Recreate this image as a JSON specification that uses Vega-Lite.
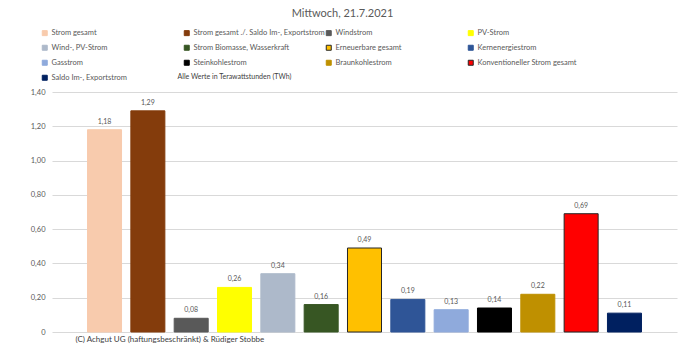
{
  "$schema": "https://vega.github.io/schema/vega-lite/v6.json",
  "width": 625,
  "height": 240,
  "autosize": {"type": "none"},
  "padding": {"left": 52, "top": 92, "right": 1, "bottom": 19},
  "background": "white",
  "title": {
    "text": "Mittwoch, 21.7.2021",
    "anchor": "middle",
    "frame": "group",
    "dx": -22,
    "offset": 10,
    "fontSize": 11,
    "font": "Lato",
    "fontWeight": "normal",
    "color": "#595959"
  },
  "config": {
    "locale": {"number": {"decimal": ",", "thousands": ".", "grouping": [3], "currency": ["", " €"]}},
    "view": {"stroke": null},
    "font": "Lato"
  },
  "data": {
    "values": [
      {"name": "Strom gesamt", "value": 1.18},
      {"name": "Strom gesamt ./. Saldo Im-, Exportstrom", "value": 1.29},
      {"name": "Windstrom", "value": 0.08},
      {"name": "PV-Strom", "value": 0.26},
      {"name": "Wind-, PV-Strom", "value": 0.34},
      {"name": "Strom Biomasse, Wasserkraft", "value": 0.16},
      {"name": "Erneuerbare gesamt", "value": 0.49},
      {"name": "Kernenergiestrom", "value": 0.19},
      {"name": "Gasstrom", "value": 0.13},
      {"name": "Steinkohlestrom", "value": 0.14},
      {"name": "Braunkohlestrom", "value": 0.22},
      {"name": "Konventioneller Strom gesamt", "value": 0.69},
      {"name": "Saldo Im-, Exportstrom", "value": 0.11}
    ]
  },
  "encoding": {
    "x": {
      "field": "name",
      "type": "nominal",
      "sort": null,
      "scale": {"paddingInner": 0.215, "paddingOuter": 0.82},
      "axis": {
        "labels": false,
        "ticks": false,
        "domain": false,
        "title": "(C) Achgut UG (haftungsbeschränkt) & Rüdiger Stobbe",
        "titleAnchor": "start",
        "titleAlign": "left",
        "titleX": 23,
        "titleY": 7,
        "titleBaseline": "middle",
        "titleFontSize": 8,
        "titleFontWeight": "normal",
        "titleColor": "#404040",
        "titleFont": "Lato"
      }
    },
    "y": {
      "field": "value",
      "type": "quantitative",
      "scale": {"domain": [0, 1.4], "nice": false},
      "axis": {
        "values": [0, 0.2, 0.4, 0.6, 0.8, 1.0, 1.2, 1.4],
        "labelExpr": "datum.value == 0 ? '0' : format(datum.value, '.2f')",
        "labelFontSize": 7.5,
        "labelColor": "#595959",
        "labelPadding": 7,
        "ticks": false,
        "domain": false,
        "gridColor": "#D9D9D9",
        "gridWidth": 1,
        "title": "Alle Werte in Terawattstunden (TWh)",
        "titleAngle": 0,
        "titleAlign": "left",
        "titleBaseline": "middle",
        "titleX": 125,
        "titleY": -16,
        "titleFontSize": 7,
        "titleFontWeight": "normal",
        "titleColor": "#404040"
      }
    }
  },
  "layer": [
    {
      "mark": {"type": "bar", "strokeWidth": 1},
      "encoding": {
        "fill": {
          "field": "name",
          "type": "nominal",
          "sort": null,
          "scale": {
            "domain": ["Strom gesamt", "Strom gesamt ./. Saldo Im-, Exportstrom", "Windstrom", "PV-Strom", "Wind-, PV-Strom", "Strom Biomasse, Wasserkraft", "Erneuerbare gesamt", "Kernenergiestrom", "Gasstrom", "Steinkohlestrom", "Braunkohlestrom", "Konventioneller Strom gesamt", "Saldo Im-, Exportstrom"],
            "range": ["#F8CBAD", "#843C0C", "#595959", "#FFFF00", "#ADB9CA", "#375623", "#FFC000", "#2F5597", "#8FAADC", "#000000", "#BF9000", "#FF0000", "#002060"]
          },
          "legend": {
            "orient": "none",
            "legendX": -11,
            "legendY": -63,
            "columns": 4,
            "direction": "horizontal",
            "gridAlign": "all",
            "columnPadding": -7,
            "rowPadding": 5,
            "title": null,
            "symbolType": "square",
            "symbolSize": 25,
            "symbolStrokeWidth": 1,
            "labelFontSize": 7.5,
            "labelColor": "#595959",
            "labelOffset": 3,
            "labelLimit": 200
          }
        },
        "stroke": {
          "field": "name",
          "type": "nominal",
          "sort": null,
          "scale": {
            "domain": ["Strom gesamt", "Strom gesamt ./. Saldo Im-, Exportstrom", "Windstrom", "PV-Strom", "Wind-, PV-Strom", "Strom Biomasse, Wasserkraft", "Erneuerbare gesamt", "Kernenergiestrom", "Gasstrom", "Steinkohlestrom", "Braunkohlestrom", "Konventioneller Strom gesamt", "Saldo Im-, Exportstrom"],
            "range": ["#F8CBAD", "#843C0C", "#595959", "#FFFF00", "#ADB9CA", "#375623", "#262626", "#2F5597", "#8FAADC", "#000000", "#BF9000", "#262626", "#002060"]
          }
        }
      }
    },
    {
      "mark": {"type": "text", "dy": -8, "fontSize": 7, "color": "#595959", "baseline": "middle"},
      "encoding": {
        "text": {"field": "value", "type": "quantitative", "format": ".2f"}
      }
    }
  ]
}
